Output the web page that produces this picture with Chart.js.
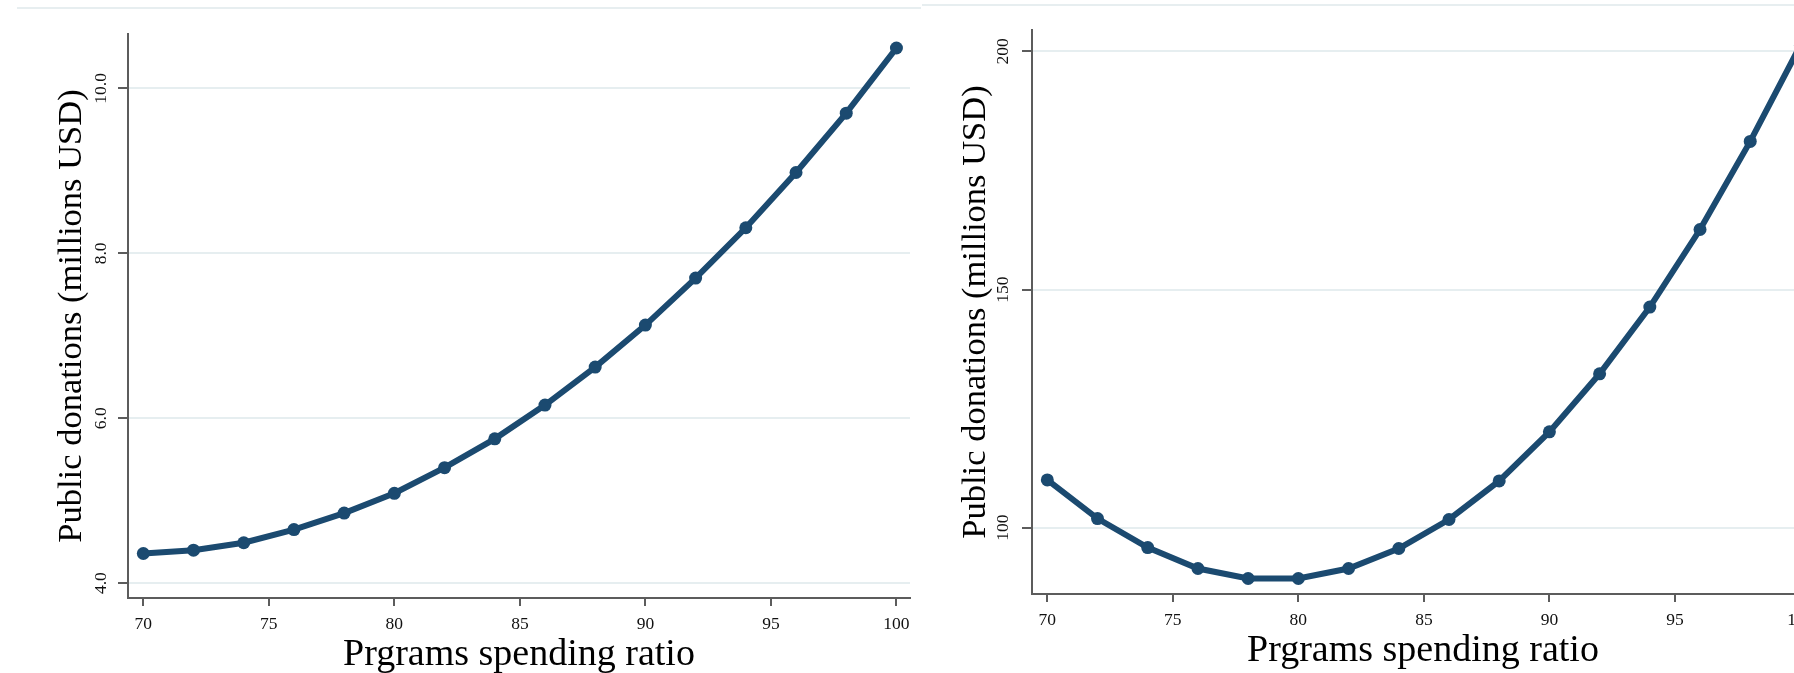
<!DOCTYPE html>
<html>
<head>
<meta charset="utf-8">
<title>Public donations vs programs spending ratio</title>
<script src="https://cdn.jsdelivr.net/npm/chart.js@4.4.1/dist/chart.umd.min.js"></script>
<style>
  html, body { margin: 0; padding: 0; background: #fff; }
  body { width: 1794px; height: 673px; overflow: hidden; position: relative; }
  .frame { position: absolute; height: 2px; background: #e7eef0; }
  canvas { position: absolute; }
</style>
</head>
<body>
<div class="frame" style="left:17px; top:7px; width:904px;"></div>
<div class="frame" style="left:922px; top:4px; width:872px;"></div>
<canvas id="left-chart" width="904" height="664" style="left:17px; top:9px;"></canvas>
<canvas id="right-chart" width="904" height="664" style="left:921px; top:5px;"></canvas>
<script>
/* Two Stata-style line plots: donations vs programs spending ratio */
var RATIOS = [70, 72, 74, 76, 78, 80, 82, 84, 86, 88, 90, 92, 94, 96, 98, 100];
var LEFT_DONATIONS = [4.36, 4.40, 4.49, 4.65, 4.85, 5.09, 5.40, 5.75, 6.16, 6.62, 7.13, 7.70, 8.31, 8.98, 9.70, 10.49];
var RIGHT_DONATIONS = [110.0, 101.9, 95.8, 91.4, 89.3, 89.3, 91.4, 95.6, 101.7, 109.8, 120.1, 132.3, 146.3, 162.6, 181.1, 201.3];
var X_TICKS = [70, 75, 80, 85, 90, 95, 100];
var LEFT_Y_TICKS = [4, 6, 8, 10];
var RIGHT_Y_TICKS = [100, 150, 200];
var X_TITLE = 'Prgrams spending ratio';
var Y_TITLE = 'Public donations (millions USD)';

(function () {
  var NAVY = '#1b4a70';
  var AXIS = '#5c5c5c';
  var GRID = '#e6eef0';
  var SERIF = '"Liberation Serif", "Times New Roman", serif';

  Chart.defaults.font.family = SERIF;
  Chart.defaults.color = '#111';

  function fixedTicks(values) {
    return function (scale) {
      scale.ticks = values.map(function (v) { return { value: v }; });
    };
  }

  function plot(canvasId, values, yTicks, yMin, yMax, decimals, labelPad) {
    var ctx = document.getElementById(canvasId);
    new Chart(ctx, {
      type: 'line',
      data: {
        datasets: [{
          data: RATIOS.map(function (r, i) { return { x: r, y: values[i] }; }),
          borderColor: NAVY,
          backgroundColor: NAVY,
          borderWidth: 6,
          pointRadius: 6.5,
          pointBorderWidth: 0,
          tension: 0,
          clip: false
        }]
      },
      options: {
        responsive: false,
        animation: false,
        events: [],
        layout: { padding: { left: 0, right: 11, top: 25, bottom: 0 } },
        plugins: { legend: { display: false }, tooltip: { enabled: false } },
        scales: {
          x: {
            type: 'linear',
            min: 69.39,
            max: 100.54,
            afterBuildTicks: fixedTicks(X_TICKS),
            afterFit: function (s) { s.height = 75; },
            grid: { drawOnChartArea: false, tickLength: 8, tickColor: AXIS, lineWidth: 2 },
            border: { color: AXIS, width: 2 },
            ticks: { autoSkip: false, padding: 8, font: { size: 17.5 }, maxRotation: 0 },
            title: {
              display: true,
              text: X_TITLE,
              font: { size: 38, lineHeight: 0.95 },
              color: '#000',
              padding: { top: 0, bottom: 0 }
            }
          },
          y: {
            type: 'linear',
            min: yMin,
            max: yMax,
            afterBuildTicks: fixedTicks(yTicks),
            afterFit: function (s) { s.width = 111; },
            grid: { color: GRID, tickColor: AXIS, tickLength: 10, lineWidth: 2 },
            border: { color: AXIS, width: 2 },
            ticks: {
              minRotation: 90,
              maxRotation: 90,
              crossAlign: 'center',
              padding: labelPad,
              font: { size: 17.5 },
              callback: function (v) { return Number(v).toFixed(decimals); }
            },
            title: {
              display: true,
              text: Y_TITLE,
              font: { size: 34.5, lineHeight: 1.2 },
              color: '#000',
              padding: { top: 34, bottom: 0 }
            }
          }
        }
      }
    });
  }

  plot('left-chart', LEFT_DONATIONS, LEFT_Y_TICKS, 3.82, 10.66, 1, 1);
  plot('right-chart', RIGHT_DONATIONS, RIGHT_Y_TICKS, 86.05, 204.5, 0, 5);
})();
</script>
</body>
</html>
